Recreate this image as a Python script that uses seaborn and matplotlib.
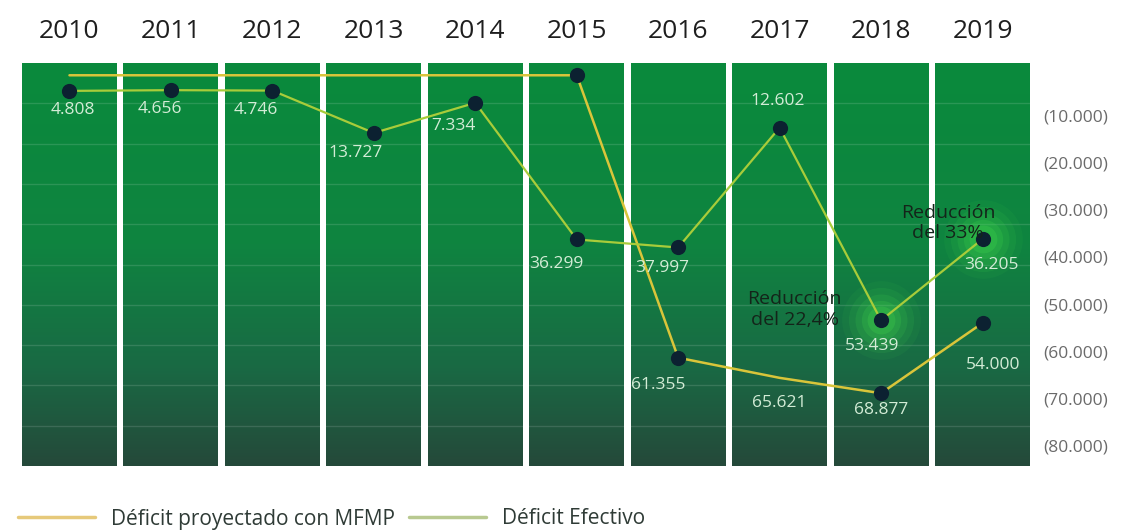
import numpy as np
import pandas as pd
import matplotlib
matplotlib.use("Agg")
import matplotlib.pyplot as plt
from matplotlib.colors import LinearSegmentedColormap
import seaborn as sns

# ── DATA ──────────────────────────────────────────────────────────────────────

years = ["2010", "2011", "2012", "2013", "2014", "2015", "2016", "2017", "2018", "2019"]
deficit_efectivo = [4808, 4656, 4746, 13727, 7334, 36299, 37997, 12602, 53439, 36205]
# MFMP projection sits flat near zero until 2015
deficit_proyectado = [1500, 1500, 1500, 1500, 1500, 1500, 61355, 65621, 68877, 54000]
proyectado_dot_years = ["2015", "2016", "2018", "2019"]
proyectado_label_years = ["2016", "2017", "2018", "2019"]
glow_years = ["2018", "2019"]
y_ticks = [10000, 20000, 30000, 40000, 50000, 60000, 70000, 80000]

reducciones = ["Reducción\ndel 22,4%", "Reducción\ndel 33%"]

# ── STYLE ─────────────────────────────────────────────────────────────────────

FONT = ["Open Sans", "DejaVu Sans"]
C_PROY = "#d9c53a"
C_EFEC = "#a8cc3a"
C_DOT = "#0c2131"
C_LABEL = "#d3ecd6"

# label offsets in pixels (dx right, dy down) relative to each point
efec_offsets = {"2010": (3, 19), "2011": (-11, 19), "2012": (-17, 19), "2013": (-18, 20),
                "2014": (-22, 23), "2015": (-20, 25), "2016": (-16, 21), "2017": (-2, -27),
                "2018": (-9, 26), "2019": (9, 26)}
proy_offsets = {"2016": (-20, 27), "2017": (0, 25), "2018": (0, 17), "2019": (11, 42)}
reduccion_pos = [(7.15, 51200), (8.66, 32800)]

sns.set_theme(style="white")
plt.rcParams["font.family"] = FONT

df = pd.DataFrame({
    "pos": np.arange(len(years)),
    "year": years,
    "efectivo": deficit_efectivo,
    "proyectado": deficit_proyectado,
})

W, H = 1131, 530
fig = plt.figure(figsize=(W / 100, H / 100), dpi=100)
ax = fig.add_axes([22 / W, 1 - 466 / H, (1030 - 22) / W, (466 - 63) / H])

HALF = 0.468
ax.set_xlim(-HALF, len(years) - 1 + HALF)
ax.set_ylim(84300, -1100)

# green gradient panels
cmap = LinearSegmentedColormap.from_list(
    "panel", [(0.0, "#0a8a3c"), (0.45, "#0f8440"), (0.75, "#196a44"), (1.0, "#25493a")])
grad = np.linspace(0, 1, 256).reshape(-1, 1)
ax.imshow(grad, cmap=cmap, aspect="auto", extent=(0, 1, 0, 1), origin="upper",
          transform=ax.transAxes, zorder=0)
for k in range(1, 10):
    ax.plot([0, 1], [k / 10, k / 10], transform=ax.transAxes,
            color="white", alpha=0.13, lw=1, zorder=0.5)
for i in range(len(years) - 1):
    ax.axvspan(i + HALF, i + 1 - HALF, color="white", zorder=1, lw=0)

# glow around the last two effective points
glow = df[df["year"].isin(glow_years)]
for s, a in [(3200, 0.06), (2200, 0.09), (1400, 0.12), (800, 0.16), (400, 0.2)]:
    ax.scatter(glow["pos"], glow["efectivo"], s=s, color="#4be84f", alpha=a,
               lw=0, zorder=2)

# lines
sns.lineplot(data=df, x="pos", y="proyectado", color=C_PROY, lw=1.8, ax=ax,
             label="Déficit proyectado con MFMP", zorder=3)
sns.lineplot(data=df, x="pos", y="efectivo", color=C_EFEC, lw=1.6, ax=ax,
             label="Déficit Efectivo", zorder=3)

# dots
dots_p = df[df["year"].isin(proyectado_dot_years)]
sns.scatterplot(data=df, x="pos", y="efectivo", s=120, color=C_DOT, lw=0, ax=ax,
                zorder=5, legend=False)
sns.scatterplot(data=dots_p, x="pos", y="proyectado", s=120, color=C_DOT, lw=0, ax=ax,
                zorder=5, legend=False)


def fmt(v):
    return f"{v:,}".replace(",", ".")


for _, r in df.iterrows():
    dx, dy = efec_offsets[r["year"]]
    ax.annotate(fmt(r["efectivo"]), (r["pos"], r["efectivo"]), xytext=(dx * 0.72, -dy * 0.72),
                textcoords="offset points", ha="center", va="center",
                fontsize=12.5, color=C_LABEL, zorder=6)
for _, r in df[df["year"].isin(proyectado_label_years)].iterrows():
    dx, dy = proy_offsets[r["year"]]
    ax.annotate(fmt(r["proyectado"]), (r["pos"], r["proyectado"]), xytext=(dx * 0.72, -dy * 0.72),
                textcoords="offset points", ha="center", va="center",
                fontsize=12.5, color=C_LABEL, zorder=6)

for txt, (x, y) in zip(reducciones, reduccion_pos):
    ax.text(x, y, txt, ha="center", va="center", fontsize=14, color="#14241a",
            linespacing=1.2, zorder=7)

# axes: years on top, values on the right
ax.set_xticks(df["pos"])
ax.set_xticklabels(years, fontweight="medium")
ax.xaxis.tick_top()
ax.tick_params(axis="x", length=0, pad=14, labelsize=19, labelcolor="#1e1e1e")
ax.yaxis.tick_right()
ax.set_yticks(y_ticks)
ax.set_yticklabels([f"({fmt(t)})" for t in y_ticks])
ax.tick_params(axis="y", length=0, pad=9.5, labelsize=12.5, labelcolor="#6a6a6a")
ax.set_xlabel("")
ax.set_ylabel("")
for sp in ax.spines.values():
    sp.set_visible(False)

# legend at the bottom
handles, labels = ax.get_legend_handles_labels()
if ax.get_legend() is not None:
    ax.get_legend().remove()
leg = fig.legend(handles, labels, loc="center left", bbox_to_anchor=(18 / W, 11 / H),
                 ncol=2, frameon=False, handlelength=3.7, handletextpad=0.75,
                 columnspacing=0.7, borderpad=0, borderaxespad=0, fontsize=15,
                 labelcolor="#2f3b36")
for line, c in zip(leg.get_lines(), ["#e6c97a", "#b8c990"]):
    line.set_color(c)
    line.set_linewidth(2.5)

fig.savefig("out.png", dpi=100)
